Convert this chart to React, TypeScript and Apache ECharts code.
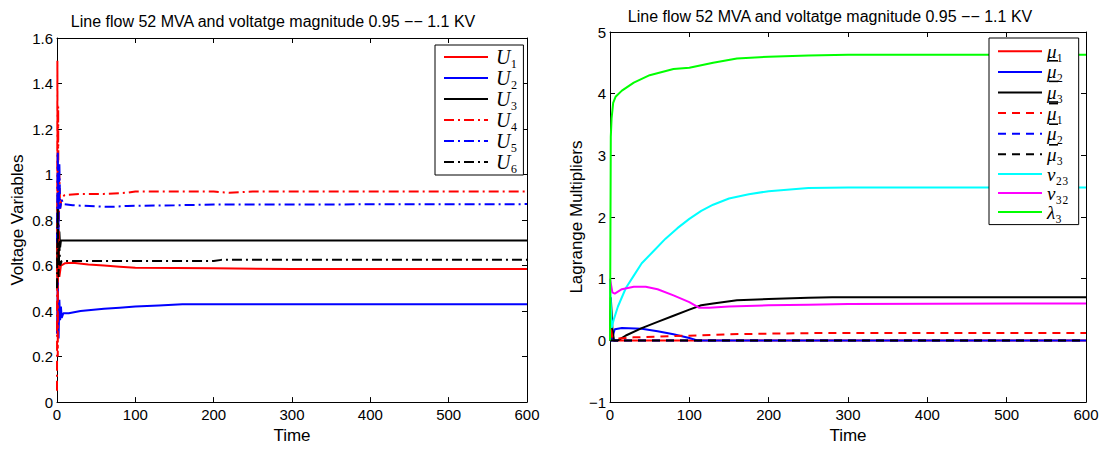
import React, { useEffect, useRef } from "react";
import * as echarts from "echarts";

// ---------- Left chart data (time, value) ----------
const U1: [number, number][] = [[0,0.6],[1,0.5],[2,0.7],[3,0.55],[5,0.6],[10,0.61],[20,0.612],[40,0.605],[60,0.6],[80,0.595],[100,0.59],[200,0.588],[300,0.585],[600,0.585]];
const U2: [number, number][] = [[0,0.3],[1,0.55],[2,0.28],[3,0.45],[4,0.36],[5,0.42],[6,0.37],[8,0.39],[15,0.39],[30,0.4],[60,0.41],[80,0.415],[100,0.42],[130,0.425],[160,0.43],[600,0.43]];
const U3: [number, number][] = [[0,0.6],[1,0.9],[2,0.6],[3,0.75],[4,0.68],[5,0.71],[600,0.71]];
const U4: [number, number][] = [[0,0.05],[0.5,1.5],[1,0.2],[1.5,1.3],[2,0.6],[3,1.0],[4,0.85],[6,0.9],[10,0.91],[30,0.915],[60,0.915],[90,0.92],[100,0.925],[200,0.925],[220,0.92],[250,0.925],[600,0.925]];
const U5: [number, number][] = [[0,0.7],[1,1.1],[2,0.75],[3,1.05],[4,0.85],[6,0.89],[8,0.87],[20,0.865],[50,0.86],[70,0.858],[90,0.862],[150,0.865],[200,0.868],[600,0.87]];
const U6: [number, number][] = [[0,0.5],[1,0.85],[2,0.55],[3,0.7],[4,0.6],[6,0.62],[200,0.62],[210,0.625],[600,0.625]];

// ---------- Right chart data (time, value) ----------
const MU1: [number, number][] = [[0,0],[1,0.5],[2,0.1],[4,0],[600,0]];
const MU2: [number, number][] = [[0,0],[3,0.05],[6,0.18],[15,0.2],[40,0.19],[60,0.15],[80,0.1],[100,0.04],[110,0],[600,0]];
const MU3: [number, number][] = [[0,0],[1,0.7],[3,0.2],[5,0],[10,0],[20,0.08],[40,0.2],[60,0.3],[80,0.4],[100,0.5],[115,0.57],[130,0.6],[160,0.65],[200,0.67],[250,0.69],[280,0.7],[600,0.7]];
const MUBAR1: [number, number][] = [[0,0],[1,0.2],[3,0.05],[10,0.03],[30,0.05],[60,0.06],[80,0.07],[110,0.08],[150,0.1],[200,0.11],[270,0.12],[600,0.12]];
const MUBAR2: [number, number][] = [[0,0],[600,0]];
const MUBAR3: [number, number][] = [[0,0],[600,0]];
const NU23: [number, number][] = [[0,1.0],[2,0.2],[5,0.35],[10,0.55],[20,0.85],[30,1.05],[40,1.25],[55,1.45],[70,1.65],[85,1.82],[100,1.97],[115,2.1],[130,2.2],[150,2.3],[175,2.37],[200,2.42],[250,2.47],[300,2.48],[600,2.48]];
const NU32: [number, number][] = [[0,1.0],[3,0.78],[6,0.76],[15,0.83],[30,0.87],[45,0.87],[60,0.83],[80,0.73],[100,0.62],[112,0.53],[125,0.53],[150,0.55],[200,0.57],[250,0.58],[300,0.59],[600,0.6]];
const LAMBDA3: [number, number][] = [[0,0],[1,3.3],[2,3.6],[4,3.85],[7,3.95],[15,4.05],[30,4.18],[50,4.3],[80,4.4],[100,4.42],[130,4.5],[160,4.57],[200,4.6],[250,4.62],[300,4.63],[600,4.63]];

const TITLE = "Line flow 52 MVA and voltatge magnitude 0.95 \u2212\u2212 1.1 KV";

const leftLabels: Record<string, string> = {
  U1: "{m|U}{s|\u2081}", U2: "{m|U}{s|\u2082}", U3: "{m|U}{s|\u2083}",
  U4: "{m|U}{s|\u2084}", U5: "{m|U}{s|\u2085}", U6: "{m|U}{s|\u2086}",
};
const under = (k: string) => `{e| }\n{m|\u03bc}{s|${k}}\n{g| }{o| }`;
const over = (k: string) => `{g| }{o| }\n{m|\u03bc}{s|${k}}\n{e| }`;
const rightLabels: Record<string, string> = {
  mu1: under("\u2081"), mu2: under("\u2082"), mu3: under("\u2083"),
  mubar1: over("\u2081"), mubar2: over("\u2082"), mubar3: over("\u2083"),
  nu23: "{m|\u03bd}{s|\u2082\u2083}", nu32: "{m|\u03bd}{s|\u2083\u2082}", lambda3: "{m|\u03bb}{s|\u2083}",
};

const SANS = "Liberation Sans, Arial, sans-serif";
const SERIF = "Liberation Serif, DejaVu Serif, serif";
const DASHDOT = [10, 4, 2, 4];
const DASH = [8, 6];

export default function App() {
  const ref = useRef<HTMLDivElement>(null);
  useEffect(() => {
    if (!ref.current) return;
    const chart = echarts.init(ref.current, undefined, { renderer: "svg" });
    const richLeft = {
      m: { fontFamily: SERIF, fontStyle: "italic", fontSize: 20, color: "#000", verticalAlign: "middle", lineHeight: 20, padding: [0, 0, 0, 3] },
      s: { fontFamily: SERIF, fontSize: 20, color: "#000", verticalAlign: "middle", lineHeight: 20 },
    };
    const richRight = {
      m: { fontFamily: SERIF, fontStyle: "italic", fontSize: 19, color: "#000", verticalAlign: "middle", lineHeight: 17 },
      s: { fontFamily: SERIF, fontSize: 19, color: "#000", verticalAlign: "middle", lineHeight: 17 },
      o: { backgroundColor: "#000", width: 9, height: 1.6, lineHeight: 2, fontSize: 1 },
      g: { width: 2, height: 1.6, lineHeight: 2, fontSize: 1 },
      e: { width: 1, height: 1.6, lineHeight: 2, fontSize: 1 },
    };
    const axisLine = { show: true, onZero: false, lineStyle: { color: "#000", width: 1 } };
    const tick = { show: true, inside: true, length: 5, lineStyle: { color: "#000" } };
    const lbl = { color: "#000", fontFamily: SANS, fontSize: 15 };
    const grids = [
      { left: 57, right: 576, top: 38, bottom: 41 },
      { left: 610, right: 17, top: 32, bottom: 43 },
    ];
    const yCfg = [
      { min: 0, max: 1.6, interval: 0.2, name: "Voltage Variables", gap: 31 },
      { min: -1, max: 5, interval: 1, name: "Lagrange Multipliers", gap: 25 },
    ];
    const xAxes: any[] = [];
    const yAxes: any[] = [];
    [0, 1].forEach((g) => {
      xAxes.push({
        type: "value", gridIndex: g, min: 0, max: 600, interval: 100, position: "bottom",
        axisLine, axisTick: tick, splitLine: { show: false },
        axisLabel: { ...lbl, margin: 5 },
        name: "Time", nameLocation: "middle", nameGap: 22,
        nameTextStyle: { color: "#000", fontFamily: SANS, fontSize: 17 },
      });
      xAxes.push({
        type: "value", gridIndex: g, min: 0, max: 600, interval: 100, position: "top",
        axisLine, axisTick: tick, splitLine: { show: false }, axisLabel: { show: false },
      });
      const yc = yCfg[g];
      yAxes.push({
        type: "value", gridIndex: g, min: yc.min, max: yc.max, interval: yc.interval, position: "left",
        axisLine, axisTick: tick, splitLine: { show: false },
        axisLabel: { ...lbl, margin: 4, formatter: (v: number) => String(Math.round(v * 10) / 10).replace("-", "\u2212") },
        name: yc.name, nameLocation: "middle", nameGap: yc.gap,
        nameTextStyle: { color: "#000", fontFamily: SANS, fontSize: 17 },
      });
      yAxes.push({
        type: "value", gridIndex: g, min: yc.min, max: yc.max, interval: yc.interval, position: "right",
        axisLine, axisTick: tick, splitLine: { show: false }, axisLabel: { show: false },
      });
    });
    const line = (name: string, data: [number, number][], color: string, g: number, type: any = "solid") => ({
      name, type: "line", data, xAxisIndex: g * 2, yAxisIndex: g * 2,
      symbol: "none", showSymbol: false, lineStyle: { color, width: 2, type }, itemStyle: { color },
    });
    const series = [
      line("U1", U1, "#ff0000", 0),
      line("U2", U2, "#0000ff", 0),
      line("U3", U3, "#000000", 0),
      line("U4", U4, "#ff0000", 0, DASHDOT),
      line("U5", U5, "#0000ff", 0, DASHDOT),
      line("U6", U6, "#000000", 0, DASHDOT),
      line("mu1", MU1, "#ff0000", 1),
      line("mu2", MU2, "#0000ff", 1),
      line("mu3", MU3, "#000000", 1),
      line("mubar1", MUBAR1, "#ff0000", 1, DASH),
      line("mubar2", MUBAR2, "#0000ff", 1, DASH),
      line("mubar3", MUBAR3, "#000000", 1, DASH),
      line("nu23", NU23, "#00ffff", 1),
      line("nu32", NU32, "#ff00ff", 1),
      line("lambda3", LAMBDA3, "#00ff00", 1),
    ];
    const legendBase = {
      orient: "vertical", backgroundColor: "#fff", borderColor: "#000", borderWidth: 1,
      itemWidth: 44, itemHeight: 14, align: "left",
      itemStyle: { opacity: 0 },
    };
    const titleStyle = { fontFamily: SANS, fontSize: 16, fontWeight: "normal", color: "#000" };
    chart.setOption({
      animation: false,
      title: [
        { text: TITLE, left: 273, top: 13, padding: 0, textAlign: "center", textStyle: titleStyle },
        { text: TITLE, left: 830, top: 8, padding: 0, textAlign: "center", textStyle: titleStyle },
      ],
      grid: grids.map((g) => ({ ...g, show: false })),
      xAxis: xAxes,
      yAxis: yAxes,
      legend: [
        { ...legendBase, left: 435, top: 45, itemGap: 1, padding: [2, 6, 3, 8], textStyle: { rich: richLeft },
          data: Object.keys(leftLabels), formatter: (n: string) => leftLabels[n] },
        { ...legendBase, left: 989, top: 38, itemGap: 0, padding: [3, 10, 3, 8], textStyle: { rich: richRight },
          data: Object.keys(rightLabels), formatter: (n: string) => rightLabels[n] },
      ],
      series,
    });
    return () => chart.dispose();
  }, []);
  return <div ref={ref} style={{ position: "fixed", left: 0, top: 0, width: 1103, height: 449, background: "#fff" }} />;
}
